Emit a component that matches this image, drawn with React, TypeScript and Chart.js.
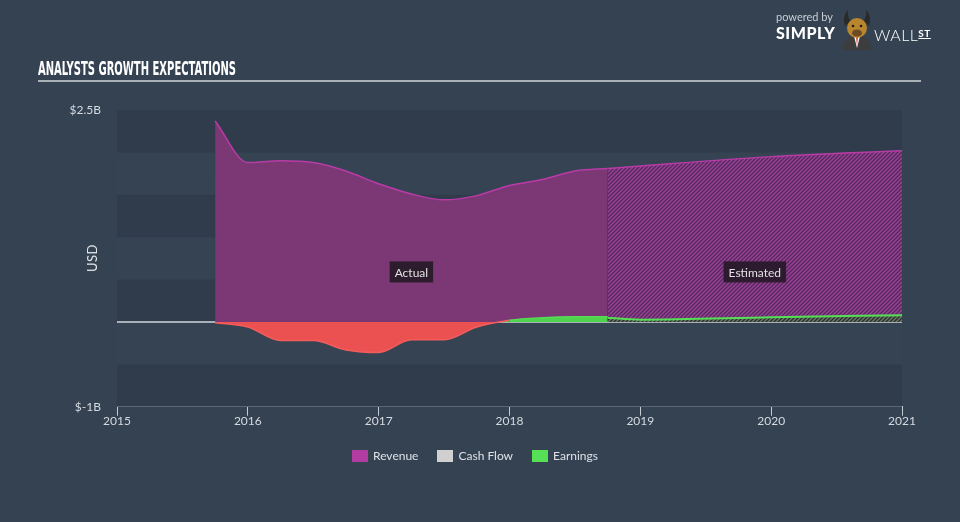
import React, { useEffect, useLayoutEffect, useRef } from "react";
import { Chart, registerables } from "chart.js";

Chart.register(...registerables);

// ---------- data ----------
const actualYears = [2015.75, 2016, 2016.25, 2016.5, 2016.75, 2017, 2017.25, 2017.5, 2017.75, 2018, 2018.25, 2018.5, 2018.75];
const revenueActual = [2.37, 1.88, 1.9, 1.88, 1.78, 1.63, 1.51, 1.44, 1.49, 1.61, 1.68, 1.78, 1.81];
const earningsActual = [-0.01, -0.06, -0.22, -0.22, -0.33, -0.36, -0.21, -0.21, -0.06, 0.02, 0.05, 0.06, 0.06];

const estimateYears = [2018.75, 2019, 2020, 2021];
const revenueEstimate = [1.81, 1.84, 1.95, 2.02];
const earningsEstimate = [0.05, 0.027, 0.055, 0.08];

const xTickValues = [2015, 2016, 2017, 2018, 2019, 2020, 2021];
const yTickValues = [-1, 2.5];
const yTickLabels = ["$-1B", "$2.5B"];
const yMin = -1;
const yMax = 2.5;
const yBandStep = 0.5;

const legendLabels = ["Revenue", "Cash Flow", "Earnings"];
const legendColors = ["#b13ca2", "#d0d0d0", "#55e055"];

const regionLabels = ["Actual", "Estimated"];

// ---------- helpers ----------
function makeHatch(ctx: CanvasRenderingContext2D, bg: string, line: string, size: number, width: number) {
  const c = document.createElement("canvas");
  c.width = size;
  c.height = size;
  const g = c.getContext("2d")!;
  g.fillStyle = bg;
  g.fillRect(0, 0, size, size);
  g.strokeStyle = line;
  g.lineWidth = width;
  g.beginPath();
  g.moveTo(-1, size + 1);
  g.lineTo(size + 1, -1);
  g.moveTo(-1, 1);
  g.lineTo(1, -1);
  g.moveTo(size - 1, size + 1);
  g.lineTo(size + 1, size - 1);
  g.stroke();
  return ctx.createPattern(c, "repeat")!;
}

const FONT = "Lato, 'Open Sans', sans-serif";

const bandsPlugin = {
  id: "bands",
  beforeDatasetsDraw(chart: any) {
    const { ctx, chartArea, scales } = chart;
    const y = scales.y;
    ctx.save();
    let i = 0;
    for (let v = yMin; v < yMax - 1e-9; v += yBandStep, i++) {
      const top = y.getPixelForValue(v + yBandStep);
      const bot = y.getPixelForValue(v);
      ctx.fillStyle = i % 2 === 0 ? "#303c4b" : "#354353";
      ctx.fillRect(chartArea.left, top, chartArea.right - chartArea.left, bot - top);
    }
    const y0 = y.getPixelForValue(0);
    ctx.strokeStyle = "#a9b0b8";
    ctx.lineWidth = 2;
    ctx.beginPath();
    ctx.moveTo(chartArea.left, y0);
    ctx.lineTo(chartArea.right, y0);
    ctx.stroke();
    ctx.restore();
  },
  afterDatasetsDraw(chart: any) {
    const { ctx, scales } = chart;
    const centers = [
      (actualYears[0] + actualYears[actualYears.length - 1]) / 2,
      (estimateYears[0] + estimateYears[estimateYears.length - 1]) / 2,
    ];
    ctx.save();
    ctx.font = `12px ${FONT}`;
    ctx.textAlign = "center";
    ctx.textBaseline = "middle";
    regionLabels.forEach((t, i) => {
      const cx = scales.x.getPixelForValue(centers[i]);
      const cy = scales.y.getPixelForValue(0.59);
      const w = ctx.measureText(t).width + 10;
      ctx.fillStyle = "rgba(34,24,36,0.88)";
      ctx.fillRect(cx - w / 2, cy - 10.5, w, 21);
      ctx.fillStyle = "#e2e2e2";
      ctx.fillText(t, cx, cy + 1);
    });
    ctx.restore();
  },
};

function toPoints(xs: number[], ys: number[]) {
  return xs.map((x, i) => ({ x, y: ys[i] }));
}

export default function App() {
  const canvasRef = useRef<HTMLCanvasElement | null>(null);
  const titleRef = useRef<HTMLSpanElement | null>(null);

  useLayoutEffect(() => {
    const el = titleRef.current;
    if (el) {
      const w = el.getBoundingClientRect().width;
      if (w > 0) el.style.transform = `scaleX(${198 / w})`;
    }
  }, []);

  useEffect(() => {
    const canvas = canvasRef.current!;
    const ctx = canvas.getContext("2d")!;
    const revHatch = makeHatch(ctx, "#57295a", "#9a429a", 4, 1.4);
    const earnHatch = makeHatch(ctx, "#6d776d", "#27332a", 4, 1.4);

    const chart = new Chart(canvas, {
      type: "line",
      data: {
        datasets: [
          {
            label: "Revenue",
            data: toPoints(actualYears, revenueActual),
            borderColor: "#b93ba6",
            borderWidth: 1.5,
            backgroundColor: "#7b3875",
            fill: "origin",
            pointRadius: 0,
            cubicInterpolationMode: "monotone",
            order: 3,
          },
          {
            label: "Revenue estimate",
            data: toPoints(estimateYears, revenueEstimate),
            borderColor: "#b93ba6",
            borderWidth: 1.5,
            backgroundColor: revHatch,
            fill: "origin",
            pointRadius: 0,
            cubicInterpolationMode: "monotone",
            order: 3,
          },
          {
            label: "Earnings",
            data: toPoints(actualYears, earningsActual),
            borderWidth: 1.5,
            borderColor: "#f25a5a",
            segment: {
              borderColor: (c: any) => (c.p0.parsed.y < 0 || c.p1.parsed.y < 0 ? "#f45c5c" : "#55dd55"),
            },
            fill: { target: "origin", above: "#4fd34f", below: "#ec5151" },
            pointRadius: 0,
            cubicInterpolationMode: "monotone",
            order: 1,
          },
          {
            label: "Earnings estimate",
            data: toPoints(estimateYears, earningsEstimate),
            borderColor: "#55e055",
            borderWidth: 2,
            backgroundColor: earnHatch,
            fill: "origin",
            pointRadius: 0,
            cubicInterpolationMode: "monotone",
            order: 1,
          },
        ],
      },
      options: {
        animation: false,
        responsive: true,
        maintainAspectRatio: false,
        layout: { padding: { top: 110, right: 58, left: 0, bottom: 0 } },
        plugins: { legend: { display: false }, tooltip: { enabled: false } },
        scales: {
          x: {
            type: "linear",
            min: 2015,
            max: 2021,
            afterBuildTicks: (s: any) => {
              s.ticks = xTickValues.map((v) => ({ value: v }));
            },
            afterFit: (s: any) => {
              s.height = 522 - 406.7;
            },
            ticks: {
              color: "#d5dae0",
              font: { family: FONT, size: 12 },
              padding: -2,
              maxRotation: 0,
              callback: (v: any) => String(v),
            },
            grid: {
              display: true,
              drawOnChartArea: false,
              drawTicks: true,
              tickLength: 9,
              color: "#c5ccd4",
              lineWidth: 1,
            },
            border: { display: true, color: "#c5ccd4", width: 1 },
          },
          y: {
            type: "linear",
            min: yMin,
            max: yMax,
            afterBuildTicks: (s: any) => {
              s.ticks = yTickValues.map((v) => ({ value: v }));
            },
            afterFit: (s: any) => {
              s.width = 117;
            },
            ticks: {
              color: "#d5dae0",
              font: { family: FONT, size: 12 },
              padding: 16,
              callback: (v: any) => {
                const i = yTickValues.indexOf(Number(v));
                return i >= 0 ? yTickLabels[i] : "";
              },
            },
            grid: { display: false, drawTicks: false },
            border: { display: false },
          },
        },
      },
      plugins: [bandsPlugin],
    } as any);

    return () => chart.destroy();
  }, []);

  return (
    <div
      style={{
        position: "fixed",
        left: 0,
        top: 0,
        width: 960,
        height: 522,
        background: "#344252",
        fontFamily: FONT,
        overflow: "hidden",
      }}
    >
      <div style={{ position: "absolute", left: 0, top: 0, width: 960, height: 522 }}>
        <canvas ref={canvasRef} />
      </div>

      {/* Title */}
      <div style={{ position: "absolute", left: 38, top: 57, whiteSpace: "nowrap" }}>
        <span
          ref={titleRef}
          style={{
            display: "inline-block",
            transformOrigin: "0 0",
            color: "#ffffff",
            fontFamily: "'Liberation Sans Narrow', 'DejaVu Sans Condensed', sans-serif",
            fontWeight: 700,
            fontSize: 19,
            lineHeight: "22px",
          }}
        >
          ANALYSTS GROWTH EXPECTATIONS
        </span>
      </div>
      <div style={{ position: "absolute", left: 38, top: 80, width: 883, height: 2, background: "#a9b0b8" }} />

      {/* Logo */}
      <div style={{ position: "absolute", left: 776, top: 11, color: "#c9ced4", fontSize: 11, lineHeight: "12px" }}>
        powered by
      </div>
      <div
        style={{
          position: "absolute",
          left: 776,
          top: 24,
          color: "#ffffff",
          fontSize: 16,
          fontWeight: 900,
          lineHeight: "18px",
          letterSpacing: 0.5,
        }}
      >
        SIMPLY
      </div>
      <svg style={{ position: "absolute", left: 840, top: 8 }} width={34} height={42} viewBox="0 0 34 42">
        <path d="M5 18 Q2 8 8 2 Q7 10 11 13 Z" fill="#2a2a2a" />
        <path d="M29 18 Q32 8 26 2 Q27 10 23 13 Z" fill="#2a2a2a" />
        <path d="M3 42 Q4 28 17 27 Q30 28 31 42 Z" fill="#3d3d3d" />
        <path d="M14 28 L17 40 L20 28 Z" fill="#ffffff" />
        <path d="M16 29 L17 38 L18 29 Z" fill="#d8432a" />
        <ellipse cx={17} cy={20} rx={10} ry={10} fill="#b8862e" />
        <ellipse cx={17} cy={25} rx={5} ry={3.5} fill="#6b4a24" />
        <circle cx={13} cy={18} r={1.3} fill="#1d1d1d" />
        <circle cx={21} cy={18} r={1.3} fill="#1d1d1d" />
      </svg>
      <div
        style={{
          position: "absolute",
          left: 874,
          top: 24,
          color: "#ffffff",
          fontSize: 16,
          fontWeight: 300,
          lineHeight: "18px",
          letterSpacing: 0.5,
        }}
      >
        WALL
        <span style={{ fontSize: 10, fontWeight: 700, textDecoration: "underline", verticalAlign: 4 }}>ST</span>
      </div>

      {/* USD axis title */}
      <div
        style={{
          position: "absolute",
          left: 92,
          top: 258,
          color: "#e0e4e8",
          fontSize: 13,
          letterSpacing: 0.5,
          transform: "translate(-50%, -50%) rotate(-90deg)",
          whiteSpace: "nowrap",
        }}
      >
        USD
      </div>

      {/* Legend */}
      <div
        style={{
          position: "absolute",
          left: 0,
          top: 448,
          width: 950,
          display: "flex",
          justifyContent: "center",
          alignItems: "center",
          gap: 19,
          fontSize: 12,
          color: "#dde1e6",
          lineHeight: "16px",
        }}
      >
        {legendLabels.map((l, i) => (
          <div key={l} style={{ display: "flex", alignItems: "center" }}>
            <span style={{ display: "inline-block", width: 16, height: 12, background: legendColors[i], marginRight: 5 }} />
            <span>{l}</span>
          </div>
        ))}
      </div>
    </div>
  );
}
